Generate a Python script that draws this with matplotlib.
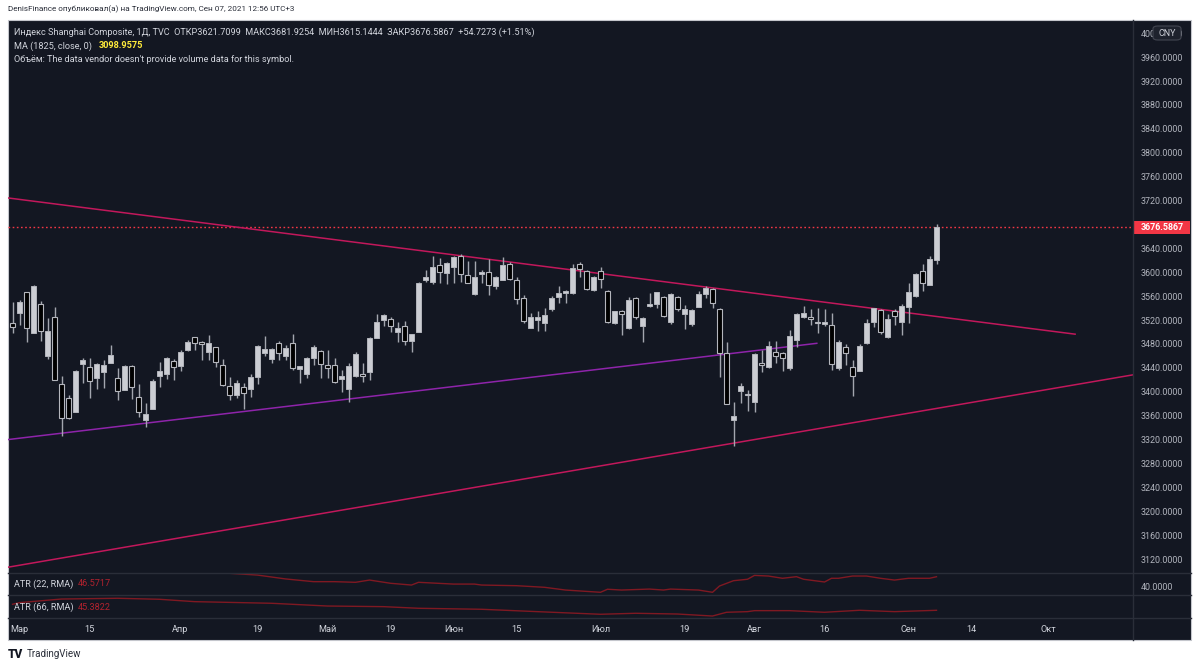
import matplotlib
matplotlib.use('Agg')
import matplotlib.pyplot as plt
from matplotlib.patches import Rectangle, FancyBboxPatch
from matplotlib.lines import Line2D
import numpy as np
import pandas as pd

plt.rcParams['font.family'] = ['Roboto', 'DejaVu Sans']

# ---------------- data ----------------
holidays = ['2021-04-05', '2021-05-03', '2021-05-04', '2021-05-05', '2021-06-14',
            '2021-09-20', '2021-09-21']
sessions = [d.strftime('%Y-%m-%d') for d in pd.bdate_range('2021-02-26', '2021-10-01')
            if d.strftime('%Y-%m-%d') not in holidays]
last_date = '2021-09-07'

opens = [3517, 3533, 3568, 3500, 3548, 3462, 3526, 3415, 3391, 3368, 3448, 3443, 3424, 3435, 3450,
         3424, 3405, 3445, 3393, 3354, 3372, 3428, 3432, 3453, 3445, 3472, 3493, 3485, 3469, 3476,
         3446, 3411, 3396, 3410, 3406, 3427, 3466, 3456, 3483, 3461, 3484, 3439, 3431, 3458, 3470,
         3446, 3446, 3423, 3407, 3428, 3432, 3435, 3491, 3521, 3523, 3501, 3512, 3487, 3502, 3588,
         3586, 3614, 3601, 3610, 3629, 3597, 3566, 3598, 3602, 3579, 3589, 3615, 3589, 3558, 3509,
         3521, 3516, 3540, 3560, 3567, 3567, 3615, 3604, 3572, 3603, 3571, 3517, 3536, 3508, 3559,
         3512, 3545, 3548, 3561, 3519, 3560, 3531, 3515, 3544, 3565, 3573, 3540, 3467, 3355, 3403,
         3398, 3385, 3450, 3443, 3468, 3466, 3441, 3489, 3527, 3527, 3518, 3515, 3513, 3442, 3476,
         3443, 3437, 3483, 3518, 3538, 3494, 3537, 3519, 3544, 3562, 3604, 3580, 3621.7099]
highs = [3552, 3555, 3569, 3580, 3554, 3525, 3543, 3428, 3396, 3438, 3458, 3458, 3449, 3455, 3480,
         3441, 3446, 3446, 3415, 3382, 3423, 3452, 3460, 3457, 3472, 3488, 3494, 3487, 3497, 3477,
         3456, 3426, 3421, 3416, 3431, 3480, 3495, 3475, 3487, 3480, 3498, 3445, 3459, 3480, 3472,
         3472, 3458, 3438, 3449, 3468, 3449, 3493, 3532, 3531, 3527, 3519, 3520, 3499, 3586, 3605,
         3629, 3625, 3619, 3629, 3632, 3620, 3620, 3605, 3623, 3595, 3627, 3618, 3594, 3564, 3534,
         3537, 3542, 3562, 3579, 3572, 3615, 3618, 3605, 3595, 3610, 3572, 3537, 3538, 3560, 3561,
         3527, 3567, 3569, 3562, 3567, 3562, 3546, 3540, 3570, 3579, 3575, 3541, 3485, 3385, 3416,
         3405, 3466, 3472, 3487, 3487, 3469, 3505, 3533, 3545, 3540, 3541, 3540, 3533, 3488, 3481,
         3454, 3482, 3523, 3542, 3540, 3531, 3540, 3548, 3583, 3600, 3615, 3628, 3681.9254]
lows = [3500, 3513, 3485, 3500, 3487, 3456, 3421, 3328, 3356, 3368, 3417, 3392, 3406, 3408, 3449,
        3388, 3405, 3389, 3360, 3343, 3372, 3409, 3423, 3421, 3437, 3470, 3472, 3455, 3454, 3443,
        3411, 3388, 3391, 3372, 3393, 3415, 3461, 3449, 3455, 3455, 3438, 3417, 3424, 3446, 3425,
        3425, 3416, 3402, 3385, 3427, 3418, 3422, 3491, 3511, 3502, 3485, 3480, 3469, 3502, 3586,
        3582, 3583, 3582, 3583, 3585, 3583, 3564, 3583, 3564, 3573, 3588, 3589, 3548, 3517, 3508,
        3504, 3504, 3537, 3551, 3550, 3565, 3594, 3572, 3571, 3575, 3516, 3515, 3497, 3506, 3523,
        3485, 3544, 3542, 3526, 3515, 3537, 3506, 3511, 3544, 3558, 3541, 3426, 3381, 3311, 3382,
        3369, 3367, 3435, 3441, 3449, 3437, 3438, 3477, 3525, 3513, 3500, 3511, 3438, 3438, 3446,
        3395, 3437, 3481, 3510, 3499, 3492, 3513, 3497, 3516, 3561, 3570, 3580, 3615.1444]
closes = [3510, 3552, 3509, 3579, 3504, 3503, 3421, 3358, 3357, 3437, 3454, 3420, 3448, 3446, 3463,
          3403, 3445, 3410, 3367, 3364, 3420, 3436, 3458, 3443, 3469, 3485, 3483, 3481, 3484, 3451,
          3413, 3396, 3417, 3399, 3427, 3478, 3474, 3474, 3466, 3475, 3441, 3444, 3458, 3476, 3448,
          3441, 3418, 3428, 3444, 3464, 3428, 3491, 3519, 3530, 3512, 3508, 3487, 3498, 3583, 3594,
          3611, 3602, 3617, 3627, 3599, 3584, 3593, 3602, 3581, 3593, 3613, 3590, 3557, 3520, 3526,
          3526, 3530, 3559, 3567, 3571, 3608, 3607, 3574, 3593, 3590, 3519, 3536, 3532, 3555, 3526,
          3525, 3549, 3568, 3528, 3565, 3540, 3540, 3538, 3565, 3576, 3551, 3467, 3381, 3361, 3412,
          3396, 3465, 3446, 3478, 3462, 3458, 3495, 3532, 3534, 3523, 3516, 3519, 3448, 3485, 3466,
          3428, 3478, 3516, 3541, 3502, 3523, 3528, 3545, 3568, 3598, 3583, 3624, 3676.5867]

# drawn trend lines: anchor (session index, price)
desc_line_x, desc_line_y = [-0.64, 151.8], [3726, 3498]
purple_line_x, purple_line_y = [-0.64, 114.9], [3321.6, 3482.7]
lower_line_x, lower_line_y = [-0.64, 160.1], [3108, 3430]

# ATR readings (session index, value)
atr22_x = [31, 35, 39, 43, 46, 49, 51, 54, 57, 58, 63, 66, 67, 72, 76, 79, 84, 85, 87, 91, 93, 94,
           98, 100, 101, 103, 105, 106, 108, 110, 112, 113, 116, 117, 118, 120, 122, 124, 126, 128,
           131, 132]
atr22_y = [48.7, 47.6, 45.2, 43.5, 43.5, 43.1, 44.5, 42.5, 41.4, 43.1, 42.0, 42.0, 41.4, 41.0, 40.0,
           38.3, 36.9, 38.8, 38.3, 38.9, 38.3, 38.9, 38.3, 36.9, 40.8, 44.1, 45.0, 47.4, 47.0, 45.6,
           46.6, 45.0, 43.3, 45.6, 45.6, 47.0, 47.0, 45.6, 44.5, 45.6, 45.6, 46.5717]
atr66_x = [0, 1, 7, 15, 21, 26, 37, 45, 53, 58, 67, 75, 84, 89, 95, 100, 102, 105, 106, 111, 116,
           121, 126, 132]
atr66_y = [50.2, 51.5, 54.4, 55.0, 54.2, 52.3, 51.0, 48.8, 48.3, 47.0, 46.2, 44.3, 42.2, 43.0, 42.4,
           40.8, 43.8, 44.3, 45.1, 45.1, 43.8, 45.4, 44.3, 45.3822]

tick_dates = ['2021-03-01', '2021-03-15', '2021-04-01', '2021-04-19', '2021-05-06', '2021-05-19',
              '2021-06-01', '2021-06-15', '2021-07-01', '2021-07-19', '2021-08-02', '2021-08-16',
              '2021-09-01', '2021-09-14', '2021-10-01']
tick_labels = ['Мар', '15', 'Апр', '19', 'Май', '19', 'Июн', '15', 'Июл', '19', 'Авг', '16', 'Сен',
               '14', 'Окт']
price_ticks = list(range(3120, 4001, 40))
atr_tick = 40.0
last_price = 3676.5867
ma_value = 3098.9575

# ---------------- layout ----------------
W, H = 1200, 668
BG = '#131722'
TXT = '#d1d4dc'
AX_TXT = '#b2b5be'
SEP = '#2a2e39'


def fr(x0, y0, x1, y1):
    return [x0 / W, 1 - y1 / H, (x1 - x0) / W, (y1 - y0) / H]


def fx(px):
    return px / W


def fy(py):
    return 1 - py / H


fig = plt.figure(figsize=(W / 100, H / 100), dpi=100)
fig.patch.set_facecolor('white')

CL, CR, CT, CB = 8, 1191, 20, 640      # chart frame
PX = 1133                              # price-scale separator
MB, A1B, A2B = 572.7, 595, 618.3       # pane bottoms

fig.patches.append(Rectangle((fx(CL), fy(CB)), fx(CR) - fx(CL), fy(CT) - fy(CB),
                             transform=fig.transFigure, facecolor=BG, edgecolor='#c4c6cc',
                             lw=0.8, zorder=-5))

pos = {d: i for i, d in enumerate(sessions)}
n = pos[last_date] + 1
x = np.arange(n)
o = np.array(opens); h = np.array(highs); l = np.array(lows); c = np.array(closes)
xlim = (-0.643, 160.07)


def clean(ax):
    ax.patch.set_visible(False)
    for s in ax.spines.values():
        s.set_visible(False)
    ax.set_xticks([]); ax.set_yticks([])


ax = fig.add_axes(fr(CL, CT, PX, MB))
clean(ax)
ax.set_xlim(*xlim)
ax.set_ylim(3098.8, 4023.8)

# trend lines
ax.plot(desc_line_x, desc_line_y, color='#c2185b', lw=1.1, zorder=2)
ax.plot(lower_line_x, lower_line_y, color='#c2185b', lw=1.1, zorder=2)
ax.plot(purple_line_x, purple_line_y, color='#8e24aa', lw=1.1, zorder=2)

# candles
UP = '#cbcdd3'
EDGE = '#b4b6bd'
up = c >= o
bot = np.minimum(o, c)
ht = np.maximum(np.abs(c - o), 1.2)
ax.vlines(x, l, h, color='#a3a6af', lw=1.0, zorder=3)
ax.bar(x[up], ht[up], bottom=bot[up], width=0.72, color=UP, edgecolor=EDGE, lw=0.7, zorder=4)
ax.bar(x[~up], ht[~up], bottom=bot[~up], width=0.72, color='#000000', edgecolor=EDGE, lw=0.8,
       zorder=4)

ax.axhline(last_price, color='#f23645', ls=(0, (1.2, 1.8)), lw=1.0, zorder=1)

# price scale
axp = fig.add_axes(fr(PX, CT, CR, MB))
clean(axp)
axp.set_xlim(0, 1)
axp.set_ylim(ax.get_ylim())
for v in price_ticks:
    if abs(v - last_price) < 20:
        continue
    axp.text(0.135, v, f'{v:.4f}', ha='left', va='center', fontsize=6.4, color=AX_TXT)
axp.add_patch(Rectangle((0.0, last_price - 11.5), 0.985, 23, facecolor='#f23645',
                        edgecolor='none', zorder=5))
axp.text(0.135, last_price, f'{last_price:.4f}', ha='left', va='center', fontsize=6.4,
         color='white', fontweight='bold', zorder=6)

# CNY badge
fig.patches.append(FancyBboxPatch((fx(1153), fy(40)), fx(1181) - fx(1153), fy(26) - fy(40),
                                  boxstyle='round,pad=0,rounding_size=0.004',
                                  transform=fig.transFigure, facecolor='#1e222d',
                                  edgecolor='#434651', lw=0.8, zorder=10))
fig.text(fx(1167), fy(33), 'CNY', ha='center', va='center', fontsize=6.4, color=TXT, zorder=11)

# ATR panes
a1 = fig.add_axes(fr(CL, MB, PX, A1B))
clean(a1)
a1.set_xlim(*xlim); a1.set_ylim(35.22, 49.07)
a1.plot(atr22_x, atr22_y, color='#801922', lw=1.0)
a2 = fig.add_axes(fr(CL, A1B, PX, A2B))
clean(a2)
a2.set_xlim(*xlim); a2.set_ylim(38.98, 57.62)
a2.plot(atr66_x, atr66_y, color='#801922', lw=1.0)
fig.text(fx(1141), fy(587.3), f'{atr_tick:.4f}', ha='left', va='center', fontsize=6.4,
         color=AX_TXT)

for yy in (MB, A1B, A2B):
    fig.lines.append(Line2D([fx(CL), fx(CR)], [fy(yy), fy(yy)], transform=fig.transFigure,
                            color=SEP, lw=1.0))
fig.lines.append(Line2D([fx(PX), fx(PX)], [fy(CT), fy(CB)], transform=fig.transFigure,
                        color=SEP, lw=1.0))

fig.text(fx(14), fy(584), 'ATR (22, RMA)', ha='left', va='center', fontsize=6.6, color=TXT)
fig.text(fx(78), fy(584), f'{atr22_y[-1]:.4f}', ha='left', va='center', fontsize=6.6,
         color='#b2222e')
fig.text(fx(14), fy(607), 'ATR (66, RMA)', ha='left', va='center', fontsize=6.6, color=TXT)
fig.text(fx(78), fy(607), f'{atr66_y[-1]:.4f}', ha='left', va='center', fontsize=6.6,
         color='#b2222e')

# time axis
at = fig.add_axes(fr(CL, A2B, PX, CB))
clean(at)
at.set_xlim(*xlim); at.set_ylim(0, 1)
for d, lab in zip(tick_dates, tick_labels):
    at.text(pos[d], 0.5, lab, ha='center', va='center', fontsize=6.6, color=TXT)

# legend texts
fig.text(fx(14), fy(32), 'Индекс Shanghai Composite, 1Д, TVC  ОТКР3621.7099  МАКС3681.9254  '
         'МИН3615.1444  ЗАКР3676.5867  +54.7273 (+1.51%)', ha='left', va='center',
         fontsize=6.62, color=TXT)
fig.text(fx(14), fy(46), 'MA (1825, close, 0)', ha='left', va='center', fontsize=6.62, color=TXT)
fig.text(fx(99), fy(46), f'{ma_value:.4f}', ha='left', va='center', fontsize=6.62,
         color='#ffeb3b', fontweight='bold')
fig.text(fx(14), fy(59), "Объём: The data vendor doesn't provide volume data for this symbol.",
         ha='left', va='center', fontsize=6.62, color=TXT)

# header and footer
fig.text(fx(8), fy(9), 'DenisFinance опубликовал(а) на TradingView.com, Сен 07, 2021 12:56 UTC+3',
         ha='left', va='center', fontsize=5.85, color='#2a2e39')
fig.text(fx(8), fy(654), 'TV', ha='left', va='center', fontsize=8.5, color='#131722',
         fontweight='black')
fig.text(fx(27), fy(654), 'TradingView', ha='left', va='center', fontsize=7.0, color='#2a2e39')

fig.savefig('out.png', dpi=100, facecolor='white')
